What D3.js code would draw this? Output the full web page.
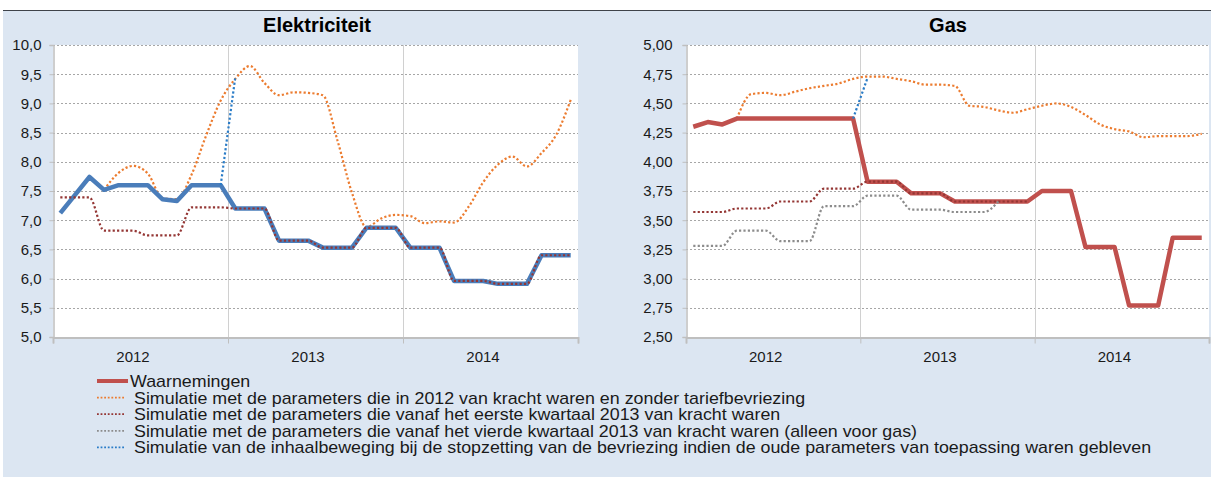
<!DOCTYPE html>
<html>
<head>
<meta charset="utf-8">
<script src="https://cdn.jsdelivr.net/npm/d3@7"></script>
<style>
  body { margin: 0; background: #fff; }
  svg { display: block; font-family: "Liberation Sans", Arial, sans-serif; }
</style>
</head>
<body>
<svg width="1211" height="477"></svg>
<script>
// months Jan 2012 .. Dec 2014, one value per month
const years = ['2012', '2013', '2014'];

// Elektriciteit
const elecObs = [7.12, 7.43, 7.74, 7.52, 7.60, 7.60, 7.60, 7.36, 7.33, 7.60, 7.60, 7.60,
  7.20, 7.20, 7.20, 6.65, 6.65, 6.65, 6.53, 6.53, 6.53, 6.87, 6.87, 6.87,
  6.53, 6.53, 6.53, 5.96, 5.96, 5.96, 5.91, 5.91, 5.91, 6.40, 6.40, 6.40];
const elecSim2012 = [null, null, null, 7.52, 7.81, 7.93, 7.80, 7.38, 7.36, 7.78, 8.45, 9.05,
  9.42, 9.64, 9.35, 9.14, 9.19, 9.18, 9.14, 8.37, 7.47, 6.88, 7.03, 7.09,
  7.07, 6.95, 6.98, 6.96, 7.23, 7.65, 7.95, 8.09, 7.92, 8.15, 8.46, 9.06];
const elecSimQ1 = [7.39, 7.39, 7.39, 6.82, 6.82, 6.82, 6.74, 6.74, 6.74, 7.22, 7.22, 7.22,
  7.20, 7.20, 7.20, 6.65, 6.65, 6.65, 6.53, 6.53, 6.53, 6.87, 6.87, 6.87,
  6.53, 6.53, 6.53, 5.96, 5.96, 5.96, 5.91, 5.91, 5.91, 6.40, 6.40, 6.40];
const elecCatchUp = [null, null, null, null, null, null, null, null, null, null, null, 7.60,
  9.45, null, null, null, null, null, null, null, null, null, null, null,
  null, null, null, null, null, null, null, null, null, null, null, null];

// Gas
const gasObs = [4.30, 4.34, 4.32, 4.37, 4.37, 4.37, 4.37, 4.37, 4.37, 4.37, 4.37, 4.37,
  3.83, 3.83, 3.83, 3.73, 3.73, 3.73, 3.66, 3.66, 3.66, 3.66, 3.66, 3.66,
  3.75, 3.75, 3.75, 3.27, 3.27, 3.27, 2.77, 2.77, 2.77, 3.35, 3.35, 3.35];
const gasSim2012 = [null, null, null, 4.37, 4.58, 4.59, 4.57, 4.60, 4.63, 4.65, 4.67, 4.71,
  4.73, 4.73, 4.71, 4.69, 4.66, 4.66, 4.65, 4.48, 4.47, 4.44, 4.42, 4.45,
  4.48, 4.50, 4.47, 4.40, 4.32, 4.28, 4.26, 4.21, 4.22, 4.22, 4.22, 4.24];
const gasSimQ1 = [3.57, 3.57, 3.57, 3.60, 3.60, 3.60, 3.66, 3.66, 3.66, 3.77, 3.77, 3.77,
  3.83, 3.83, 3.83, 3.73, 3.73, 3.73, 3.66, 3.66, 3.66, 3.66, 3.66, 3.66,
  null, null, null, null, null, null, null, null, null, null, null, null];
const gasSimQ4 = [3.28, 3.28, 3.28, 3.41, 3.41, 3.41, 3.32, 3.32, 3.32, 3.62, 3.62, 3.62,
  3.71, 3.71, 3.71, 3.59, 3.59, 3.59, 3.57, 3.57, 3.57, 3.66, null, null,
  null, null, null, null, null, null, null, null, null, null, null, null];
const gasCatchUp = [null, null, null, null, null, null, null, null, null, null, null, 4.37,
  4.72, null, null, null, null, null, null, null, null, null, null, null,
  null, null, null, null, null, null, null, null, null, null, null, null];

const elecTicks = [5, 5.5, 6, 6.5, 7, 7.5, 8, 8.5, 9, 9.5, 10];
const gasTicks = [2.5, 2.75, 3, 3.25, 3.5, 3.75, 4, 4.25, 4.5, 4.75, 5];

const legendItems = [
  { label: 'Waarnemingen', color: '#c0504d', thick: true },
  { label: 'Simulatie met de parameters die in 2012 van kracht waren en zonder tariefbevriezing', color: '#ec7c30' },
  { label: 'Simulatie met de parameters die vanaf het eerste kwartaal 2013 van kracht waren', color: '#943634' },
  { label: 'Simulatie met de parameters die vanaf het vierde kwartaal 2013 van kracht waren (alleen voor gas)', color: '#8c8c8c' },
  { label: 'Simulatie van de inhaalbeweging bij de stopzetting van de bevriezing indien de oude parameters van toepassing waren gebleven', color: '#2a7cc7' }
];

const svg = d3.select('svg');

svg.append('rect').attr('x', 3).attr('y', 10).attr('width', 1208).attr('height', 467)
  .attr('fill', '#dce6f2');
svg.append('line').attr('x1', 3).attr('x2', 1211).attr('y1', 10.5).attr('y2', 10.5)
  .attr('stroke', '#3f434a').attr('stroke-width', 1.2);

function drawChart(opt) {
  const x = d3.scaleLinear().domain([0, 36]).range([opt.left, opt.right]);
  const y = d3.scaleLinear().domain(opt.domain).range([337, 45]);
  const g = svg.append('g');

  g.append('rect').attr('x', opt.left).attr('y', 45)
    .attr('width', opt.right - opt.left).attr('height', 292).attr('fill', '#fff');

  // horizontal dashed gridlines
  g.selectAll('.hgrid').data(opt.ticks.slice(1)).enter().append('line')
    .attr('x1', opt.left).attr('x2', opt.right)
    .attr('y1', d => Math.round(y(d)) + 0.5).attr('y2', d => Math.round(y(d)) + 0.5)
    .attr('stroke', '#a6a6a6').attr('stroke-dasharray', '2,2');

  // year separators
  g.selectAll('.vgrid').data([12, 24]).enter().append('line')
    .attr('x1', d => Math.round(x(d)) + 0.5).attr('x2', d => Math.round(x(d)) + 0.5)
    .attr('y1', 45).attr('y2', 337).attr('stroke', '#d0d0d0');

  // y axis
  const yAxis = d3.axisLeft(y).tickValues(opt.ticks).tickSize(4)
    .tickFormat(d => d3.format(opt.fmt)(d).replace('.', ','));
  const ya = g.append('g').attr('transform', `translate(${opt.left + 0.5},0)`).call(yAxis);
  ya.select('.domain').attr('stroke', '#bfbfbf').attr('stroke-width', 1.5);
  ya.selectAll('.tick line').attr('stroke', '#bfbfbf');
  ya.selectAll('.tick text').attr('x', opt.labelX - opt.left).attr('font-size', 15)
    .attr('fill', '#1a1a1a').attr('font-family', '"Liberation Sans", Arial, sans-serif');

  // x axis
  const xAxis = d3.axisBottom(x).tickValues([0, 12, 24, 36]).tickSize(6).tickFormat('');
  const xa = g.append('g').attr('transform', 'translate(0,337.5)').call(xAxis);
  xa.select('.domain').attr('stroke', '#bfbfbf').attr('stroke-width', 2);
  xa.selectAll('.tick line').attr('stroke', '#bfbfbf');

  g.selectAll('.yr').data(years).enter().append('text')
    .attr('x', (d, i) => x(i * 12 + 6) - 7.5).attr('y', 362)
    .attr('text-anchor', 'middle').attr('font-size', 15).attr('fill', '#1a1a1a')
    .text(d => d);

  g.append('text').attr('x', opt.titleX).attr('y', 32).attr('text-anchor', 'middle')
    .attr('font-size', 20).attr('font-weight', 'bold').attr('fill', '#000').text(opt.title);

  const px = (d, i) => x(i + 0.5);
  const straight = d3.line().defined(d => d != null).x(px).y(d => y(d));
  const smooth = d3.line().defined(d => d != null).x(px).y(d => y(d)).curve(d3.curveMonotoneX);

  opt.series.forEach(s => {
    g.append('path').datum(s.values)
      .attr('d', s.thick ? straight : smooth)
      .attr('fill', 'none').attr('stroke', s.color)
      .attr('stroke-width', s.thick ? 4.5 : 2.2)
      .attr('stroke-dasharray', s.thick ? null : '2.2,2.2')
      .attr('stroke-linejoin', 'round');
  });
}

drawChart({
  title: 'Elektriciteit', titleX: 317, left: 53, right: 578, labelX: 41,
  domain: [5, 10], ticks: elecTicks, fmt: '.1f',
  series: [
    { values: elecSim2012, color: '#ec7c30' },
    { values: elecObs, color: '#4a7dba', thick: true },
    { values: elecSimQ1, color: '#943634' },
    { values: elecCatchUp, color: '#2a7cc7' }
  ]
});

drawChart({
  title: 'Gas', titleX: 948, left: 686, right: 1209, labelX: 672,
  domain: [2.5, 5], ticks: gasTicks, fmt: '.2f',
  series: [
    { values: gasSim2012, color: '#ec7c30' },
    { values: gasObs, color: '#c0504d', thick: true },
    { values: gasSimQ1, color: '#943634' },
    { values: gasSimQ4, color: '#8c8c8c' },
    { values: gasCatchUp, color: '#2a7cc7' }
  ]
});

// legend (text in the source is a bit wider than Liberation Sans, so stretch it)
const lg = svg.append('g');
const rows = lg.selectAll('g').data(legendItems).enter().append('g')
  .attr('transform', (d, i) => `translate(0,${381 + i * 16.6})`);
rows.append('line')
  .attr('x1', 97).attr('x2', d => d.thick ? 128 : 124)
  .attr('stroke', d => d.color)
  .attr('stroke-width', d => d.thick ? 4 : 1.8)
  .attr('stroke-dasharray', d => d.thick ? null : '1.8,1.8');
rows.append('text')
  .attr('transform', d => `translate(${d.thick ? 130 : 134},6) scale(1.115,1)`)
  .attr('font-size', 16).attr('fill', '#1a1a1a')
  .text(d => d.label);
</script>
</body>
</html>
